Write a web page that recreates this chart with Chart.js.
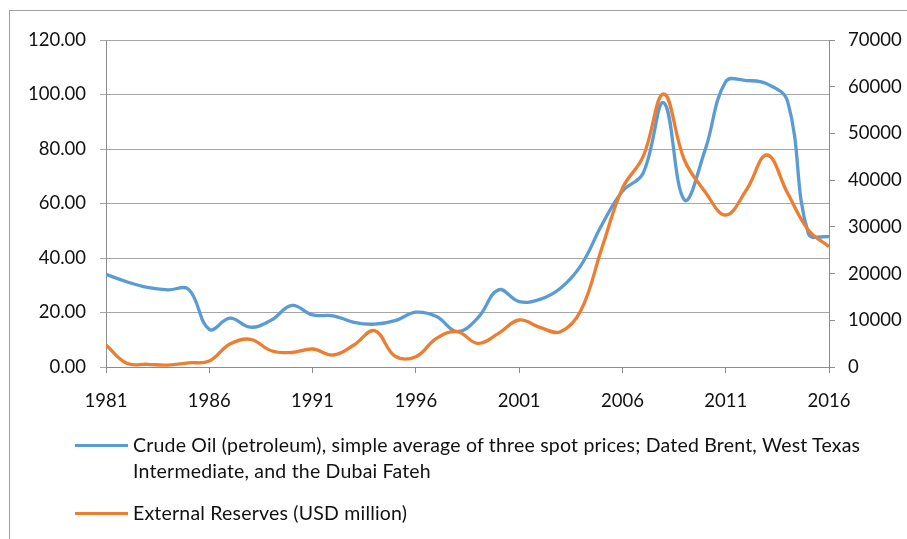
<!DOCTYPE html>
<html>
<head>
<meta charset="utf-8">
<script src="https://cdn.jsdelivr.net/npm/chart.js@4/dist/chart.umd.min.js"></script>
<style>
  html, body { margin: 0; padding: 0; background: #fff; overflow: hidden; }
  #wrap { position: relative; width: 907px; height: 539px; overflow: hidden; }
  #frame { position: absolute; left: 9px; top: 10px; width: 1000px; height: 1000px;
           border: 1px solid #a0a0a0; box-sizing: border-box; }
  #chart { position: absolute; left: 0; top: 0; }
  .legend-item { position: absolute; left: 75px; font-family: Lato, sans-serif;
                 font-size: 19.5px; letter-spacing: 0.2px; line-height: 26px;
                 color: #111; white-space: nowrap; }
  .legend-swatch { position: absolute; left: 0; width: 53px; height: 3px; }
  .legend-text { position: absolute; left: 58px; top: 0; }
</style>
</head>
<body>
<div id="wrap">
  <div id="frame"></div>
  <canvas id="chart" width="907" height="539"></canvas>
  <div id="legend"></div>
</div>
<script>
// Years on the horizontal axis
const years = [
  1981, 1982, 1983, 1984, 1985, 1986, 1987, 1988, 1989, 1990,
  1991, 1992, 1993, 1994, 1995, 1996, 1997, 1998, 1999, 2000,
  2001, 2002, 2003, 2004, 2005, 2006, 2007, 2008, 2009, 2010,
  2011, 2012, 2013, 2014, 2015, 2016
];

// Crude oil price, USD per barrel (left axis)
const crudeOil = [
  34.0, 31.3, 29.2, 28.3, 28.5, 13.8, 17.9, 14.6, 17.2, 22.6,
  19.1, 18.8, 16.4, 15.7, 17.0, 20.1, 18.5, 13.0, 18.0, 28.3,
  24.0, 24.8, 28.9, 37.4, 52.1, 64.5, 71.1, 97.0, 61.3, 79.6,
  104.7, 105.1, 103.9, 97.4, 49.0, 47.8
];

// External reserves, USD million (right axis)
const externalReserves = [
  4710, 790, 580, 400, 900, 1280, 4920, 5930, 3490, 3100,
  3850, 2570, 4710, 7770, 2300, 2200, 6140, 7560, 5070, 7210,
  10060, 8500, 7560, 12200, 25400, 38250, 45020, 58440, 44310, 37530,
  32540, 37890, 45380, 37180, 29330, 25750
];

const seriesNames = [
  ['Crude Oil (petroleum), simple average of three spot prices; Dated Brent, West Texas',
   'Intermediate, and the Dubai Fateh'],
  ['External Reserves (USD million)']
];

const blue = '#5B9BD5';
const orange = '#ED7D31';
const gridColor = '#a6a6a6';
const axisColor = '#8c8c8c';
const textColor = '#111111';
const tickFont = { family: 'Lato, sans-serif', size: 18.5 };

const toPoints = (vals) => vals.map((v, i) => ({ x: years[i], y: v }));

new Chart(document.getElementById('chart'), {
  type: 'line',
  data: {
    datasets: [
      {
        label: seriesNames[0].join(' '),
        data: toPoints(crudeOil),
        yAxisID: 'yLeft',
        borderColor: blue,
        borderWidth: 3.3,
        pointRadius: 0,
        tension: 0.4,
        fill: false,
        order: 1
      },
      {
        label: seriesNames[1].join(' '),
        data: toPoints(externalReserves),
        yAxisID: 'yRight',
        borderColor: orange,
        borderWidth: 3.3,
        pointRadius: 0,
        tension: 0.4,
        fill: false,
        order: 0
      }
    ]
  },
  options: {
    responsive: false,
    animation: false,
    devicePixelRatio: 1,
    layout: { padding: { left: 0, right: 0, top: 40, bottom: 127 } },
    plugins: { legend: { display: false }, tooltip: { enabled: false } },
    scales: {
      x: {
        type: 'linear',
        min: 1981,
        max: 2016,
        ticks: {
          stepSize: 5,
          color: textColor,
          font: tickFont,
          padding: 17,
          maxRotation: 0,
          callback: (v) => String(v)
        },
        grid: { drawOnChartArea: false, drawTicks: true, tickLength: 6, color: axisColor },
        border: { color: axisColor, width: 1 },
        afterFit: (s) => { s.height = 45; }
      },
      yLeft: {
        position: 'left',
        min: 0,
        max: 120,
        ticks: {
          stepSize: 20,
          color: textColor,
          font: tickFont,
          padding: 14,
          callback: (v) => Number(v).toFixed(2)
        },
        grid: { color: gridColor, tickLength: 6, tickColor: gridColor },
        border: { color: axisColor, width: 1 },
        afterFit: (s) => { s.width = 106; }
      },
      yRight: {
        position: 'right',
        min: 0,
        max: 70000,
        ticks: {
          stepSize: 10000,
          color: textColor,
          font: tickFont,
          padding: 13,
          callback: (v) => String(v)
        },
        grid: { drawOnChartArea: false, tickLength: 6, color: axisColor },
        border: { color: axisColor, width: 1 },
        afterFit: (s) => { s.width = 78; }
      }
    }
  }
});

// Legend below the plot, with the long series name wrapped onto two lines
const legend = document.getElementById('legend');
const legendRows = [
  { names: seriesNames[0], color: blue, top: 432 },
  { names: seriesNames[1], color: orange, top: 500 }
];
legendRows.forEach((row) => {
  const item = document.createElement('div');
  item.className = 'legend-item';
  item.style.top = row.top + 'px';
  const sw = document.createElement('div');
  sw.className = 'legend-swatch';
  sw.style.background = row.color;
  sw.style.top = '12px';
  const txt = document.createElement('div');
  txt.className = 'legend-text';
  txt.innerHTML = row.names.join('<br>');
  item.appendChild(sw);
  item.appendChild(txt);
  legend.appendChild(item);
});
</script>
</body>
</html>
